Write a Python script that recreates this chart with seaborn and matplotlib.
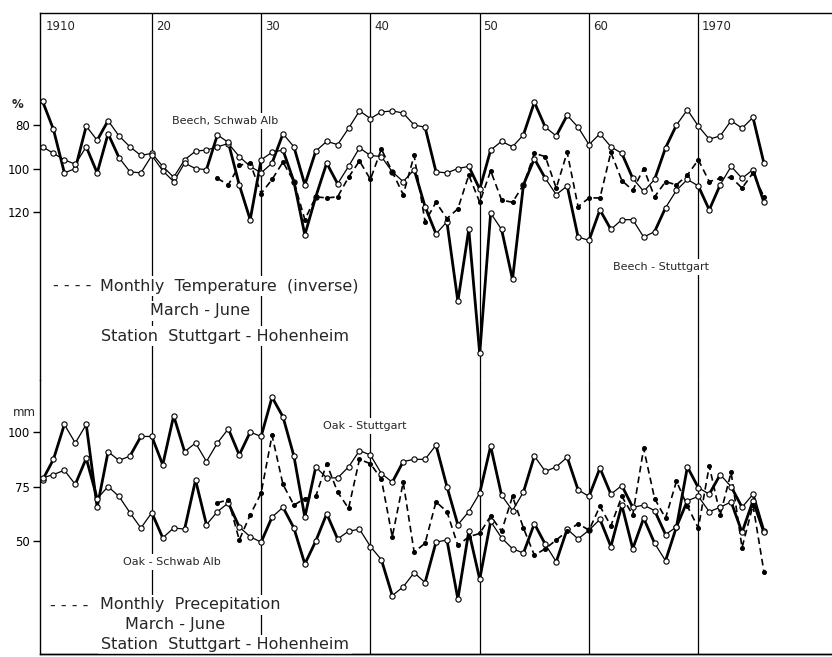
import matplotlib
matplotlib.use("Agg")
import matplotlib.pyplot as plt
import seaborn as sns
from matplotlib.lines import Line2D
from matplotlib.transforms import blended_transform_factory

# ---------------- data ----------------
years = list(range(1910, 1977))
clim_years = list(range(1926, 1977))

beech_schwab_alb = [69, 82, 102, 100, 80.5, 87, 78, 85, 90, 94,
                    93, 99, 104, 96, 92, 91.5, 90, 88.5, 94.5, 99,
                    102, 97.5, 84, 90, 107.5, 92, 87.5, 89, 81.5, 73.5,
                    77, 74, 73.5, 74.5, 80, 81, 101.5, 102, 100, 99,
                    109.5, 91.5, 87.5, 90, 84.5, 69.5, 81, 85, 75.5, 81,
                    89, 84, 90, 93, 104.5, 110.5, 105, 90.5, 80, 73,
                    80.5, 86.5, 85, 78, 81.5, 76.5, 97.5]
beech_stuttgart = [90, 93, 96, 98, 90, 102, 84, 95, 101.5, 102,
                   94, 101, 106, 97.5, 100, 100.5, 84.5, 88, 107.5, 123.5,
                   96, 92.5, 91.5, 106, 130.5, 113, 97.5, 107, 99, 90.5,
                   94, 94.5, 101.5, 106, 100.5, 117.5, 130, 124.5, 161, 128,
                   185, 120.5, 128, 151, 107.5, 95.5, 104.5, 112, 108, 131.5,
                   133, 119, 128, 123.5, 123.5, 131.5, 129, 118, 110, 105,
                   108, 119, 107.5, 99, 104.5, 100.5, 115.5]
temperature_inv = [104.5, 107.5, 98.5, 97.5, 111.5, 105, 97, 106, 123.5, 113,
                   113.5, 113, 104, 96.5, 105, 91, 101.5, 112, 94, 124.5,
                   115.5, 123, 118.5, 103, 115.5, 101, 114.5, 115.5, 107.5, 93,
                   94.5, 109, 92.5, 117.5, 113.5, 113.5, 92.5, 105.5, 110, 100,
                   113, 106, 107.5, 103, 96, 106, 104.5, 104, 109, 102, 113]

oak_stuttgart = [78, 87.5, 103.5, 95, 103.5, 65.5, 91, 87, 89, 98,
                 98, 85, 107.5, 91, 95, 86.5, 95, 101.5, 89.5, 100,
                 98, 116, 107, 89, 61, 84, 79, 79, 84, 91.5,
                 89.5, 81, 77, 86.5, 87.5, 87.5, 94, 75, 57.5, 63.5,
                 72, 93.5, 71, 64, 72.5, 89, 82, 84, 88.5, 73.5,
                 70.5, 83.5, 71.5, 75.5, 65.5, 66.5, 64, 53, 56.5, 84,
                 74.5, 71.5, 80.5, 75, 65.5, 71.5, 54.5]
oak_schwab_alb = [79, 80.5, 82.5, 76, 88, 69.5, 75, 70.5, 63, 56,
                  63, 51.5, 56, 55.5, 78, 57.5, 63.5, 67.5, 56.5, 52,
                  49.5, 61, 65.5, 56, 39.5, 50, 62.5, 51, 54.5, 55.5,
                  47.5, 41.5, 25, 29, 35.5, 31, 49.5, 50.5, 23.5, 54.5,
                  32.5, 59, 51.5, 46.5, 44.5, 58, 48.5, 40.5, 55.5, 51,
                  55, 60, 47.5, 66.5, 46.5, 60.5, 49, 41, 56.5, 68.5,
                  70.5, 63.5, 65.5, 68, 54, 68.5, 54]
precipitation = [67.5, 69, 50.5, 62, 72, 98.5, 76, 66.5, 69.5, 70.5,
                 85.5, 72.5, 65, 87.5, 85.5, 78.5, 52, 77, 45, 49,
                 68, 63.5, 48, 52, 53.5, 61.5, 54.5, 70.5, 56, 43.5,
                 46.5, 50.5, 54.5, 58, 55, 66, 57, 70.5, 62, 92.5,
                 69.5, 60.5, 77.5, 66, 56, 84.5, 62, 81.5, 47, 66.5, 36]

decades = [1920, 1930, 1940, 1950, 1960, 1970]
decade_labels = ["20", "30", "40", "50", "60", "1970"]
top_ticks = [80, 100, 120]
bottom_ticks = [50, 75, 100]

# ---------------- figure ----------------
sns.set_style("white")
plt.rcParams["font.family"] = ["DejaVu Sans"]

W, H = 832, 657
fig = plt.figure(figsize=(W / 100, H / 100), dpi=100)


def fx(px):
    return px / W


def fy(py):
    return 1 - py / H


ax_t = fig.add_axes([fx(40), fy(380), fx(832) - fx(40), fy(13) - fy(380)])
ax_b = fig.add_axes([fx(40), fy(654), fx(832) - fx(40), fy(380) - fy(654)])


def tree_series(ax, x, y):
    sns.lineplot(x=x, y=y, ax=ax, color="black", lw=0.9,
                 estimator=None, sort=False, zorder=3)
    for i in range(len(y) - 1):
        if abs(y[i + 1] - y[i]) >= 9:
            ax.plot(x[i:i + 2], y[i:i + 2], color="black", lw=2.0,
                    solid_capstyle="round", zorder=3)
    ax.plot(x, y, ls="none", marker="o", ms=3.8, mfc="white",
            mec="black", mew=0.8, zorder=4)


def climate_series(ax, x, y):
    sns.lineplot(x=x, y=y, ax=ax, color="black", lw=1.2,
                 estimator=None, sort=False, zorder=3)
    ax.lines[-1].set_dashes([4, 2.5])
    ax.plot(x, y, ls="none", marker="o", ms=2.6, color="black", zorder=4)


tree_series(ax_t, years, beech_schwab_alb)
tree_series(ax_t, years, beech_stuttgart)
climate_series(ax_t, clim_years, temperature_inv)

tree_series(ax_b, years, oak_stuttgart)
tree_series(ax_b, years, oak_schwab_alb)
climate_series(ax_b, clim_years, precipitation)

for ax in (ax_t, ax_b):
    ax.set_xlim(1909.77, 1982.23)
    ax.set_xticks([])
    ax.set_xlabel("")
    ax.set_ylabel("")
    ax.set_facecolor("none")
    for d in decades:
        ax.axvline(d, color="black", lw=0.9, zorder=1)
    for s in ax.spines.values():
        s.set_color("black")
        s.set_linewidth(1.0)
    ax.tick_params(axis="y", direction="out", length=5, width=1,
                   labelsize=8.5, pad=2, colors="black", left=True)

ax_t.set_ylim(197.2, 28.5)
ax_b.set_ylim(-1.8, 123.9)
ax_t.set_yticks(top_ticks)
ax_b.set_yticks(bottom_ticks)
ax_t.spines["bottom"].set_visible(False)
ax_t.spines["right"].set_visible(False)
ax_b.spines["top"].set_visible(False)
ax_b.spines["right"].set_visible(False)

# decade labels at the top
tr = blended_transform_factory(ax_t.transData, ax_t.transAxes)
ax_t.text(1910.25, 0.962, "1910", transform=tr, ha="left", va="center", fontsize=8.5)
for d, lab in zip(decades, decade_labels):
    ax_t.text(d + 0.35, 0.962, lab, transform=tr, ha="left", va="center", fontsize=8.5)

# unit labels
fig.text(fx(18), fy(105), "%", ha="center", va="center", fontsize=8.5, weight="bold")
fig.text(fx(24), fy(412), "mm", ha="center", va="center", fontsize=8.5)

box = dict(facecolor="white", edgecolor="none", pad=2)

# series labels
fig.text(fx(172), fy(121), "Beech, Schwab Alb", ha="left", va="center", fontsize=8, bbox=box)
fig.text(fx(613), fy(267), "Beech - Stuttgart", ha="left", va="center", fontsize=8, bbox=box)
fig.text(fx(323), fy(426), "Oak - Stuttgart", ha="left", va="center", fontsize=8, bbox=box)
fig.text(fx(123), fy(562), "Oak - Schwab Alb", ha="left", va="center", fontsize=8, bbox=box)

# climate legends
fig.text(fx(53), fy(286), "- - - -", ha="left", va="center", fontsize=11.5, bbox=box)
fig.text(fx(100), fy(286), "Monthly  Temperature  (inverse)", ha="left", va="center", fontsize=11.5, bbox=box)
fig.text(fx(200), fy(311), "March - June", ha="center", va="center", fontsize=11.5, bbox=box)
fig.text(fx(225), fy(336), "Station  Stuttgart - Hohenheim", ha="center", va="center", fontsize=11.5, bbox=box)

fig.text(fx(50), fy(605), "- - - -", ha="left", va="center", fontsize=11.5, bbox=box)
fig.text(fx(100), fy(605), "Monthly  Precepitation", ha="left", va="center", fontsize=11.5, bbox=box)
fig.text(fx(175), fy(625), "March - June", ha="center", va="center", fontsize=11.5, bbox=box)
fig.text(fx(225), fy(645), "Station  Stuttgart - Hohenheim", ha="center", va="center", fontsize=11.5, bbox=box)

# keep the bottom frame line visible over the text boxes
fig.add_artist(Line2D([fx(40), 1.0], [fy(654), fy(654)], color="black", lw=1.0, zorder=10))

fig.savefig("out.png", dpi=100, facecolor="white")
